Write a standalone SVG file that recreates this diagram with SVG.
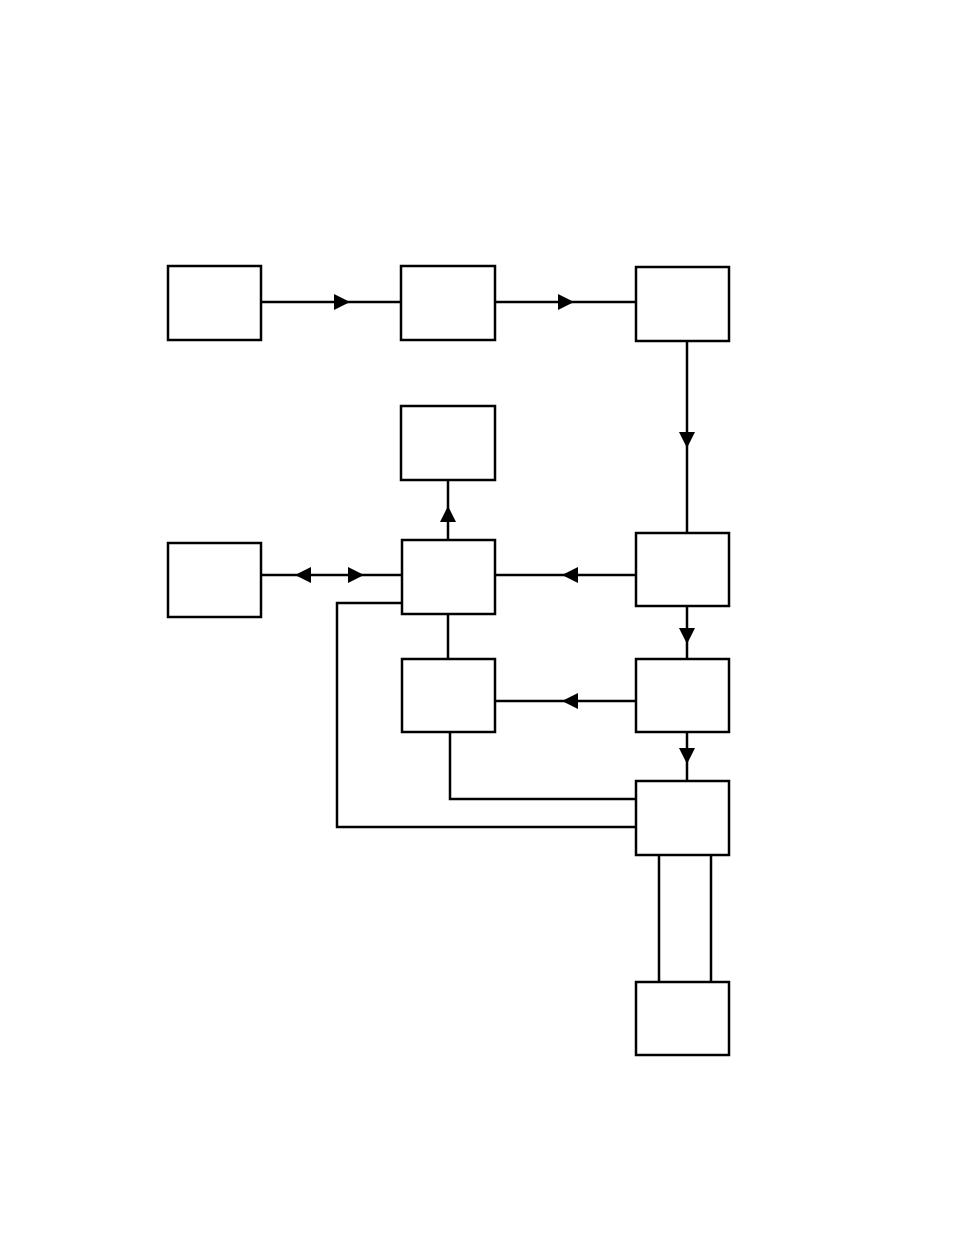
<svg xmlns="http://www.w3.org/2000/svg" width="954" height="1235" viewBox="0 0 954 1235">
<style>
.n{fill:#fff;stroke:#000;stroke-width:2.5}
.c{fill:none;stroke:#000;stroke-width:2.5}
.a{fill:#000}
</style>
<rect width="954" height="1235" fill="#fff"/>
<g id="connectors">
<path class="c" d="M261,302H401M495,302H636M687,341V533M448,540V480M261,575H402M636,575H495M687,606V659M448,614V659M636,701H495M687,732V781M450,732V799H636M402,603H337V827H636M659,855V982M711,855V982"/>
<polygon class="a" points="334,294 350,302 334,310"/>
<polygon class="a" points="558,294 574,302 558,310"/>
<polygon class="a" points="679,432 687,448 695,432"/>
<polygon class="a" points="440,522 448,506 456,522"/>
<polygon class="a" points="311,567 295,575 311,583"/>
<polygon class="a" points="348,567 364,575 348,583"/>
<polygon class="a" points="578,567 562,575 578,583"/>
<polygon class="a" points="679,628 687,644 695,628"/>
<polygon class="a" points="578,693 562,701 578,709"/>
<polygon class="a" points="679,748 687,764 695,748"/>
</g>
<g id="n1"><rect class="n" x="168" y="266" width="93" height="74"/></g>
<g id="n2"><rect class="n" x="401" y="266" width="94" height="74"/></g>
<g id="n3"><rect class="n" x="636" y="267" width="93" height="74"/></g>
<g id="n4"><rect class="n" x="401" y="406" width="94" height="74"/></g>
<g id="n5"><rect class="n" x="168" y="543" width="93" height="74"/></g>
<g id="n6"><rect class="n" x="402" y="540" width="93" height="74"/></g>
<g id="n7"><rect class="n" x="636" y="533" width="93" height="73"/></g>
<g id="n8"><rect class="n" x="402" y="659" width="93" height="73"/></g>
<g id="n9"><rect class="n" x="636" y="659" width="93" height="73"/></g>
<g id="n10"><rect class="n" x="636" y="781" width="93" height="74"/></g>
<g id="n11"><rect class="n" x="636" y="982" width="93" height="73"/></g>
</svg>
